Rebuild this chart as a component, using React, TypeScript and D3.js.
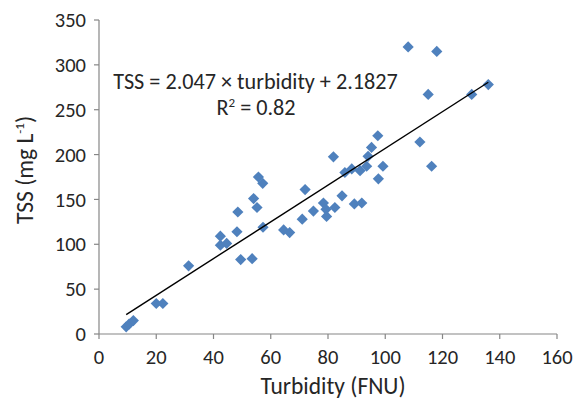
import React from "react";
import * as d3 from "d3";

const turbidity = [9.5, 10.5, 12, 20, 22.3, 31.3, 42.4, 42.4, 44.6, 48.2, 48.5, 49.5, 53.5, 54, 55.2, 55.7, 57.2, 57.3, 64.5, 66.6, 71, 72, 74.9, 78.4, 79.3, 79.5, 82.4, 81.9, 84.9, 85.9, 88.3, 89.2, 91.8, 91.2, 93.5, 94, 95.2, 97.4, 97.6, 99.2, 108, 112.1, 115, 116.2, 118, 130.2, 136];
const tss = [8, 11, 15, 34, 34, 76, 109, 99, 101, 114, 136, 83, 84, 151, 141, 175, 168, 119, 116, 113, 128, 161, 137, 146, 139, 131, 141, 197.5, 154, 180, 184, 145, 146, 182, 187, 198, 208, 221, 173, 187, 320, 214, 267, 187, 315, 267, 278];
const xTicks = [0, 20, 40, 60, 80, 100, 120, 140, 160];
const yTicks = [0, 50, 100, 150, 200, 250, 300, 350];
const slope = 2.047;
const intercept = 2.1827;

const W = 585;
const H = 399;
const margin = { left: 99, right: 28, top: 20, bottom: 65 };

export default function App() {
  const x = d3.scaleLinear().domain([0, 160]).range([margin.left, W - margin.right]);
  const y = d3.scaleLinear().domain([0, 350]).range([H - margin.bottom, margin.top]);
  const pts = turbidity.map((t, i) => ({ t, s: tss[i] }));
  const xMin = d3.min(turbidity) as number;
  const xMax = d3.max(turbidity) as number;
  const trend = d3.line<number>().x((d) => x(d)).y((d) => y(slope * d + intercept))([xMin, xMax]) as string;
  const r = 5.6;
  const axisColor = "#868686";
  const textColor = "#262626";
  const font = "Carlito, Lato, 'Open Sans', sans-serif";
  return (
    <div style={{ position: "fixed", left: 0, top: 0 }}>
      <svg width={W} height={H} style={{ display: "block", background: "#fff" }} fontFamily={font}>
        {/* axes */}
        <line x1={x(0)} x2={x(0)} y1={y(350)} y2={y(0)} stroke={axisColor} strokeWidth={1.2} />
        <line x1={x(0)} x2={x(160)} y1={y(0)} y2={y(0)} stroke={axisColor} strokeWidth={1.2} />
        {yTicks.map((v) => (
          <g key={"y" + v}>
            <line x1={x(0) - 5} x2={x(0)} y1={y(v)} y2={y(v)} stroke={axisColor} strokeWidth={1.2} />
            <text x={x(0) - 13} y={y(v)} dy="0.35em" textAnchor="end" fontSize={20.5} fill={textColor}>
              {v}
            </text>
          </g>
        ))}
        {xTicks.map((v) => (
          <g key={"x" + v}>
            <line x1={x(v)} x2={x(v)} y1={y(0)} y2={y(0) + 5} stroke={axisColor} strokeWidth={1.2} />
            <text x={x(v)} y={y(0) + 29.5} textAnchor="middle" fontSize={20.5} fill={textColor}>
              {v}
            </text>
          </g>
        ))}
        {/* points */}
        {pts.map((p, i) => (
          <path
            key={i}
            d={`M${x(p.t)},${y(p.s) - r}L${x(p.t) + r},${y(p.s)}L${x(p.t)},${y(p.s) + r}L${x(p.t) - r},${y(p.s)}Z`}
            fill="#4F81BD"
          />
        ))}
        {/* trend line */}
        <path d={trend} stroke="#000" strokeWidth={1.4} fill="none" />
        {/* equation */}
        <text x={255.5} y={88.5} textAnchor="middle" fontSize={22.2} fill={textColor}>
          TSS = 2.047 × turbidity + 2.1827
        </text>
        <text x={256} y={115} textAnchor="middle" fontSize={22.2} fill={textColor}>
          R<tspan dy={-8} fontSize={13}>2</tspan>
          <tspan dy={8}> = 0.82</tspan>
        </text>
        {/* axis titles */}
        <text x={333} y={394} textAnchor="middle" fontSize={23.5} fill={textColor}>
          Turbidity (FNU)
        </text>
        <text transform={`translate(33,170) rotate(-90)`} textAnchor="middle" fontSize={23.5} fill={textColor}>
          TSS (mg L<tspan dy={-9} fontSize={13}>-1</tspan>
          <tspan dy={9}>)</tspan>
        </text>
      </svg>
    </div>
  );
}
